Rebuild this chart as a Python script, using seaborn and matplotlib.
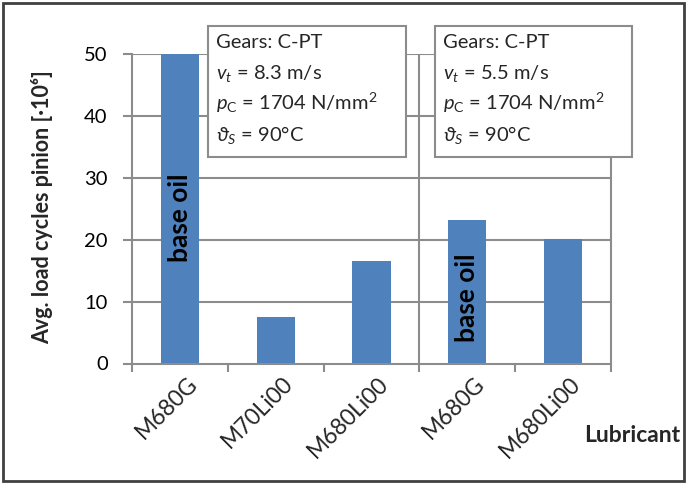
import matplotlib
matplotlib.use("Agg")
import matplotlib.pyplot as plt
import matplotlib.patches as mpatches
import matplotlib.transforms as mtransforms
import seaborn as sns
import pandas as pd

# ---- data ----
categories = ["M680G", "M70Li00", "M680Li00", "M680G", "M680Li00"]
keys = ["c1", "c2", "c3", "c4", "c5"]
load_cycles = [50.0, 7.5, 16.5, 23.2, 20.1]
y_ticks = [0, 10, 20, 30, 40, 50]
box_texts = [
    ["Gears: C-PT", r"$v_t$ = 8.3 m/s", r"$p_\mathrm{C}$ = 1704 N/mm$^\mathrm{2}$", r"$\vartheta_S$ = 90°C"],
    ["Gears: C-PT", r"$v_t$ = 5.5 m/s", r"$p_\mathrm{C}$ = 1704 N/mm$^\mathrm{2}$", r"$\vartheta_S$ = 90°C"],
]
base_oil_idx = [0, 3]

sns.set_theme(style="white")
plt.rcParams["font.family"] = ["Lato", "DejaVu Sans"]
plt.rcParams["mathtext.fontset"] = "custom"
plt.rcParams["mathtext.rm"] = "Lato"
plt.rcParams["mathtext.it"] = "Lato:italic"
plt.rcParams["mathtext.bf"] = "Lato:bold"

W, H = 687, 484
fig = plt.figure(figsize=(W / 100, H / 100), dpi=100)
fig.patch.set_facecolor("white")

ax = fig.add_axes([132 / W, 1 - 363.5 / H, (611 - 132) / W, (363.5 - 54) / H])
df = pd.DataFrame({"key": keys, "val": load_cycles})
sns.barplot(data=df, x="key", y="val", color="#4F81BD", saturation=1, width=0.4, ax=ax, zorder=3)
for p in ax.patches:
    p.set_edgecolor("none")

grid_c = "#8C8C8C"
ax.set_xlim(-0.5, 4.5)
ax.set_ylim(0, 50)
ax.set_yticks(y_ticks)
ax.set_yticklabels([str(t) for t in y_ticks], fontsize=14.5)
for t in y_ticks[1:]:
    ax.axhline(t, color=grid_c, lw=1.5, zorder=1)
ax.spines["top"].set_visible(False)
for s in ["left", "right", "bottom"]:
    ax.spines[s].set_color(grid_c)
    ax.spines[s].set_linewidth(1.5)
    ax.spines[s].set_zorder(4)
ax.axvline(2.5, color=grid_c, lw=1.5, zorder=2)

ax.tick_params(axis="y", length=6.5, width=1.5, color=grid_c, pad=11, labelcolor="black", left=True)
# tick marks at category boundaries, labels at centres
ax.set_xticks([-0.5, 0.5, 1.5, 2.5, 3.5, 4.5])
ax.set_xticklabels([""] * 6)
ax.tick_params(axis="x", which="major", length=6, width=1.5, color=grid_c, bottom=True)
ax.set_xticks(range(5), minor=True)
ax.set_xticklabels(categories, minor=True, rotation=45, ha="right", va="center",
                   rotation_mode="anchor", fontsize=16.5)
ax.tick_params(axis="x", which="minor", length=0, pad=12)
off = mtransforms.ScaledTranslation(10 / 72, 0, fig.dpi_scale_trans)
for lbl in ax.get_xticklabels(minor=True):
    lbl.set_transform(lbl.get_transform() + off)

ax.set_xlabel("")
ax.set_ylabel("")
fig.text(42 / W, 1 - 207 / H, "Avg. load cycles pinion [·10⁶]", rotation=90,
         ha="center", va="center", fontsize=15.5, fontweight="bold")
fig.text(632 / W, 1 - 436 / H, "Lubricant", ha="center", va="center",
         fontsize=16.5, fontweight="bold")

for i in base_oil_idx:
    ycen = 23.5 if i == 0 else 10.6
    ax.text(i, ycen, "base oil", rotation=90, ha="center", va="center",
            fontsize=19, fontweight="bold", color="black", zorder=5)

# annotation boxes
for (x0, x1), lines in zip([(208, 406), (435, 632)], box_texts):
    rect = mpatches.Rectangle((x0 / W, 1 - 157 / H), (x1 - x0) / W, (157 - 26) / H,
                              transform=fig.transFigure, facecolor="white",
                              edgecolor=grid_c, lw=1.5, zorder=10)
    fig.patches.append(rect)
    for k, line in enumerate(lines):
        fig.text((x0 + 8) / W, 1 - (48 + 31 * k) / H, line, ha="left", va="baseline",
                 fontsize=14.5, zorder=11)

# outer frame
frame = mpatches.Rectangle((3 / W, 3 / H), (W - 6) / W, (H - 6) / H, transform=fig.transFigure,
                           facecolor="none", edgecolor="#404040", lw=2, zorder=20)
fig.patches.append(frame)

fig.savefig("out.png", dpi=100)
